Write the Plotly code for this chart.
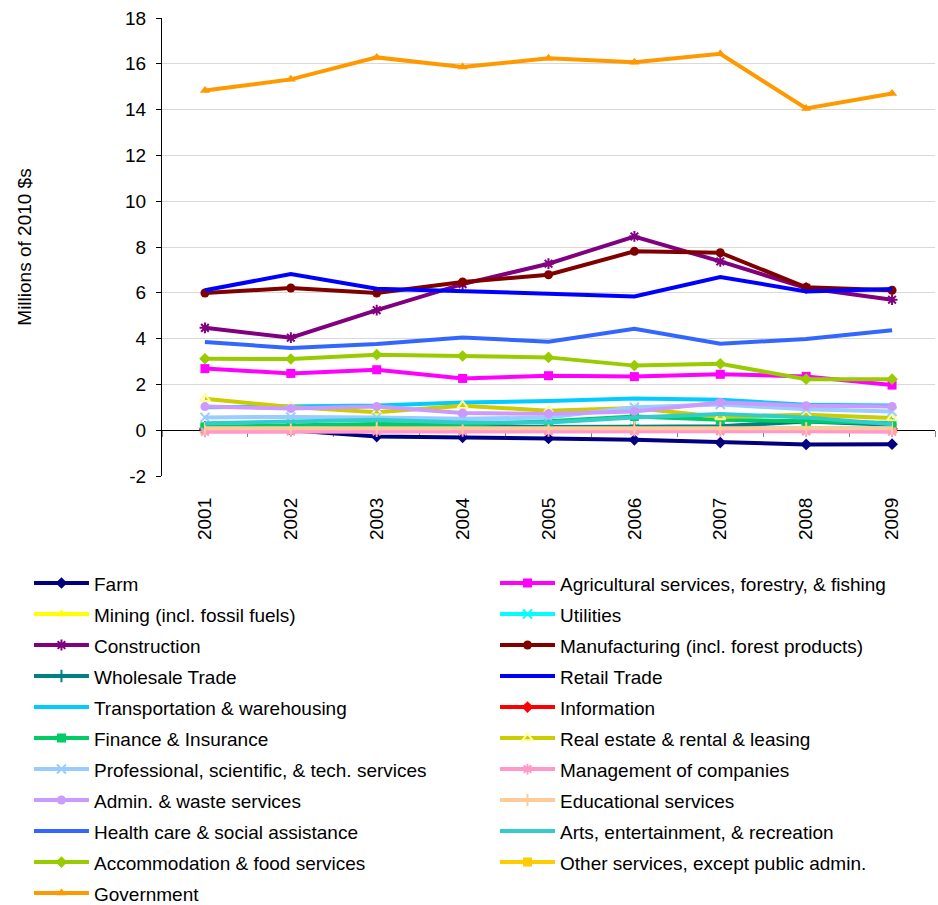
import plotly.graph_objects as go

years = ["2001", "2002", "2003", "2004", "2005", "2006", "2007", "2008", "2009"]

farm = [0.02, 0.0, -0.28, -0.31, -0.36, -0.42, -0.54, -0.62, -0.61]
agricultural = [2.69, 2.48, 2.64, 2.26, 2.38, 2.34, 2.44, 2.35, 1.97]
mining = [0.05, 0.15, 0.12, 0.08, 0.06, 0.05, 0.05, 0.04, 0.05]
utilities = [0.06, 0.06, 0.07, 0.07, 0.07, 0.08, 0.08, 0.08, 0.08]
construction = [4.47, 4.04, 5.24, 6.38, 7.27, 8.46, 7.37, 6.21, 5.70]
manufacturing = [5.99, 6.21, 5.99, 6.47, 6.79, 7.81, 7.75, 6.24, 6.11]
wholesale = [0.12, 0.12, 0.13, 0.13, 0.14, 0.15, 0.17, 0.38, 0.24]
retail = [6.11, 6.82, 6.18, 6.09, 5.96, 5.84, 6.69, 6.06, 6.17]
transportation = [1.00, 1.04, 1.08, 1.21, 1.27, 1.38, 1.33, 1.11, 1.08]
information = [0.08, 0.08, 0.07, 0.07, 0.07, 0.07, 0.06, 0.06, 0.06]
finance = [0.15, 0.22, 0.27, 0.24, 0.39, 0.60, 0.46, 0.39, 0.31]
real_estate = [1.37, 1.01, 0.78, 1.07, 0.85, 0.97, 0.58, 0.68, 0.53]
professional = [0.56, 0.58, 0.55, 0.50, 0.55, 1.00, 1.12, 0.92, 0.82]
management = [-0.07, -0.06, -0.06, -0.05, -0.05, -0.04, -0.05, -0.05, -0.07]
admin = [1.03, 0.95, 1.03, 0.75, 0.72, 0.82, 1.21, 1.07, 1.04]
educational = [0.08, 0.08, 0.09, 0.09, 0.09, 0.12, 0.10, 0.08, 0.08]
health = [3.85, 3.59, 3.76, 4.05, 3.86, 4.43, 3.78, 3.98, 4.36]
arts = [0.30, 0.39, 0.46, 0.34, 0.34, 0.56, 0.71, 0.56, 0.26]
accommodation = [3.12, 3.11, 3.30, 3.24, 3.18, 2.82, 2.90, 2.23, 2.23]
other = [0.02, 0.02, 0.02, 0.02, 0.02, 0.03, 0.03, 0.02, 0.02]
government = [14.83, 15.32, 16.28, 15.86, 16.24, 16.07, 16.44, 14.05, 14.70]

y_ticks = [-2, 0, 2, 4, 6, 8, 10, 12, 14, 16, 18]

# (name, values, colour, marker symbol) in legend order, read row by row
series = [
    ("Farm", farm, "#000080", "diamond"),
    ("Agricultural services, forestry, & fishing", agricultural, "#FF00FF", "square"),
    ("Mining (incl. fossil fuels)", mining, "#FFFF00", "triangle-up"),
    ("Utilities", utilities, "#00FFFF", "x-thin-open"),
    ("Construction", construction, "#800080", "asterisk-open"),
    ("Manufacturing (incl. forest products)", manufacturing, "#800000", "circle"),
    ("Wholesale Trade", wholesale, "#008080", "line-ns-open"),
    ("Retail Trade", retail, "#0000FF", None),
    ("Transportation & warehousing", transportation, "#00CCFF", None),
    ("Information", information, "#FF0000", "diamond"),
    ("Finance & Insurance", finance, "#00CC66", "square"),
    ("Real estate & rental & leasing", real_estate, "#CCCC00", "triangle-up-open"),
    ("Professional, scientific, & tech. services", professional, "#99CCFF", "x-thin-open"),
    ("Management of companies", management, "#FF99CC", "asterisk-open"),
    ("Admin. & waste services", admin, "#CC99FF", "circle"),
    ("Educational services", educational, "#FFCC99", "line-ns-open"),
    ("Health care & social assistance", health, "#3366FF", None),
    ("Arts, entertainment, & recreation", arts, "#33CCCC", None),
    ("Accommodation & food services", accommodation, "#99CC00", "diamond"),
    ("Other services, except public admin.", other, "#FFCC00", "square"),
    ("Government", government, "#FF9900", "triangle-up"),
]

# the near-zero series sit underneath in the original, draw them first
drawn_first = ["Other services, except public admin.", "Information", "Utilities",
               "Mining (incl. fossil fuels)"]

FONT = "Arial, Liberation Sans, sans-serif"
xpos = list(range(len(years)))
names = [s[0] for s in series]

order = [s for s in series if s[0] in drawn_first] + [s for s in series if s[0] not in drawn_first]

fig = go.Figure()
for name, vals, color, symbol in order:
    idx = names.index(name)
    if symbol is None:
        mode = "lines"
        marker = None
    else:
        mode = "lines+markers"
        mcolor = "#FFFF99" if name.startswith("Real estate") else color
        marker = dict(symbol=symbol, size=9, color=mcolor,
                      line=dict(color=mcolor, width=2 if "open" in symbol else 0))
    fig.add_trace(go.Scatter(
        x=xpos, y=vals, mode=mode, legendrank=idx + 1,
        legend="legend" if idx % 2 == 0 else "legend2",
        name='<span style="font-size:19px">' + name + "</span>",
        line=dict(color=color, width=4), marker=marker))

# category axis drawn at y = 0 with boundary ticks
fig.add_trace(go.Scatter(x=[None], y=[None], xaxis="x2", showlegend=False,
                         hoverinfo="skip"))

legend_style = dict(orientation="v", y=-0.1889, xanchor="left", yanchor="top",
                    itemwidth=55,
                    font=dict(family=FONT, size=21.54, color="black"),
                    traceorder="normal", bgcolor="rgba(0,0,0,0)")

fig.update_layout(
    width=938, height=905,
    margin=dict(l=162, r=3, t=18, b=429, autoexpand=False),
    paper_bgcolor="white", plot_bgcolor="white",
    font=dict(family=FONT, size=19, color="black"),
    showlegend=True,
    legend=dict(x=-0.1721, **legend_style),
    legend2=dict(x=0.4308, **legend_style),
    xaxis=dict(range=[-0.5, 8.5], tickvals=xpos, ticktext=years, tickangle=-90,
               showgrid=False, zeroline=False, showline=False, ticks="",
               ticklabelstandoff=17, tickfont=dict(size=19), automargin=False),
    xaxis2=dict(range=[-0.5, 8.5], overlaying="x", anchor="free", position=0.1,
                side="bottom", tickvals=[i + 0.5 for i in range(-1, 9)],
                showticklabels=False, ticks="outside", ticklen=6, tickcolor="#808080",
                showline=True, linecolor="black", linewidth=1, showgrid=False,
                zeroline=False, layer="below traces", automargin=False),
    yaxis=dict(range=[-2, 18], tickvals=y_ticks, ticktext=[str(v) for v in y_ticks],
               ticks="outside", ticklen=5, tickcolor="black",
               showline=True, linecolor="black", linewidth=1,
               gridcolor="#D9D9D9", gridwidth=1, zeroline=False,
               ticklabelstandoff=6, tickfont=dict(size=19), automargin=False,
               title=dict(text="Millions of 2010 $s", standoff=88,
                          font=dict(size=19))),
)

fig.write_html("out.html", config={"displayModeBar": False},
               post_script="document.body.style.margin = '0';")
